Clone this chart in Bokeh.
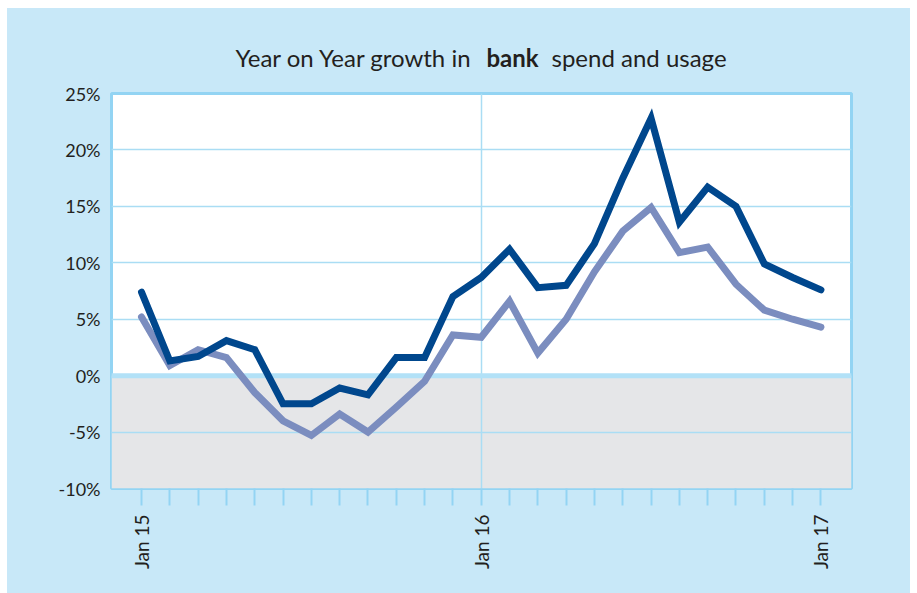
import math
from bokeh.plotting import figure
from bokeh.layouts import column
from bokeh.models import FixedTicker, BoxAnnotation, Span, Range1d
from bokeh.core.properties import value
from bokeh.embed import file_html
from bokeh.resources import INLINE

# ---- data ----
months = list(range(25))                      # Jan 15 .. Jan 17
month_labels = {0: "Jan 15", 12: "Jan 16", 24: "Jan 17"}
spend = [7.4, 1.3, 1.7, 3.1, 2.3, -2.5, -2.5, -1.1, -1.7, 1.6, 1.6, 7.0,
         8.7, 11.2, 7.8, 8.0, 11.7, 17.5, 22.8, 13.6, 16.7, 15.0, 9.9, 8.7, 7.6]
usage = [5.2, 0.9, 2.3, 1.6, -1.5, -4.0, -5.3, -3.4, -5.0, -2.8, -0.5, 3.6,
         3.4, 6.6, 2.0, 5.0, 9.2, 12.8, 14.9, 10.9, 11.4, 8.1, 5.8, 5.0, 4.3]
y_ticks = [-10, -5, 0, 5, 10, 15, 20, 25]
y_tick_labels = ["-10%", "-5%", "0%", "5%", "10%", "15%", "20%", "25%"]
title_parts = ["Year on Year growth in", "bank", "spend and usage"]

# ---- layout ----
W = 903
TH = 73                      # title strip height
H = 512                      # chart height
FL, FW, FT, FH = 104, 740, 12, 395
X0, X1 = -1.06, 25.08
Y0, Y1 = -10, 25

PANEL = "#C8E8F8"
BORDER = "#93D4F3"
GRID = "#AADDF4"
TEXT = "#231F20"
FONT = "Lato"


def px_to_x(px):
    """figure pixel -> month coordinate (shared frame geometry)"""
    return X0 + (px - FL) / FW * (X1 - X0)


# ---- title strip (same horizontal frame as the chart, transparent) ----
t = figure(width=W, height=TH, x_range=Range1d(X0, X1), y_range=Range1d(TH, 0),
           output_backend="svg", toolbar_location=None,
           x_axis_type=None, y_axis_type=None,
           min_border_left=FL, min_border_right=W - FL - FW,
           min_border_top=0, min_border_bottom=0)
t.background_fill_alpha = 0
t.border_fill_alpha = 0
t.outline_line_color = None
t.xgrid.visible = False
t.ygrid.visible = False
base_y = 49.3
for txt, px, align, style in [(title_parts[0], 465, "right", "normal"),
                              (title_parts[1], 479, "left", "bold"),
                              (title_parts[2], 544, "left", "normal")]:
    t.text(x=[px_to_x(px)], y=[base_y], text=[txt], text_align=align,
           text_baseline="alphabetic", text_font=value(FONT),
           text_font_size="24px", text_font_style=style, text_color=TEXT)

# ---- chart ----
p = figure(width=W, height=H, x_range=(X0, X1), y_range=(Y0, Y1),
           output_backend="svg", toolbar_location=None,
           min_border_left=FL, min_border_right=W - FL - FW,
           min_border_top=FT, min_border_bottom=H - FT - FH)
p.background_fill_color = "white"
p.border_fill_color = PANEL
p.outline_line_color = BORDER
p.outline_line_width = 3

# grey negative zone
p.add_layout(BoxAnnotation(top=0, fill_color="#E5E6E8", fill_alpha=1,
                           line_color=None, level="image"))

# grids
p.ygrid.ticker = FixedTicker(ticks=y_ticks)
p.ygrid.grid_line_color = GRID
p.ygrid.grid_line_width = 1.5
p.xgrid.ticker = FixedTicker(ticks=[12])
p.xgrid.grid_line_color = GRID
p.xgrid.grid_line_width = 1.5
p.add_layout(Span(location=0, dimension="width", line_color="#B2E1F7",
                  line_width=5, level="underlay"))

# lines
p.line(months, usage, line_color="#7B8DBF", line_width=7,
       line_join="miter", line_cap="round")
p.line(months, spend, line_color="#00478D", line_width=7,
       line_join="miter", line_cap="round")

# x axis
xa = p.xaxis[0]
xa.ticker = FixedTicker(ticks=months)
xa.major_label_overrides = {m: month_labels.get(m, "") for m in months}
xa.axis_line_color = None
xa.major_tick_line_color = BORDER
xa.major_tick_line_width = 2
xa.major_tick_in = 0
xa.major_tick_out = 17
xa.minor_tick_line_color = None
xa.major_label_orientation = math.pi / 2
xa.major_label_standoff = 9
xa.major_label_text_font = FONT
xa.major_label_text_font_size = "19px"
xa.major_label_text_color = TEXT

# y axis
ya = p.yaxis[0]
ya.ticker = FixedTicker(ticks=y_ticks)
ya.major_label_overrides = dict(zip(y_ticks, y_tick_labels))
ya.axis_line_color = None
ya.major_tick_line_color = None
ya.major_tick_in = 0
ya.major_tick_out = 0
ya.minor_tick_line_color = None
ya.major_label_standoff = 11
ya.major_label_text_font = FONT
ya.major_label_text_font_size = "18px"
ya.major_label_text_color = TEXT

layout = column(t, p, spacing=0)
layout.margin = (8, 0, 0, 7)
layout.styles = {"background-color": PANEL}

open("out.html", "w").write(file_html(layout, INLINE))
